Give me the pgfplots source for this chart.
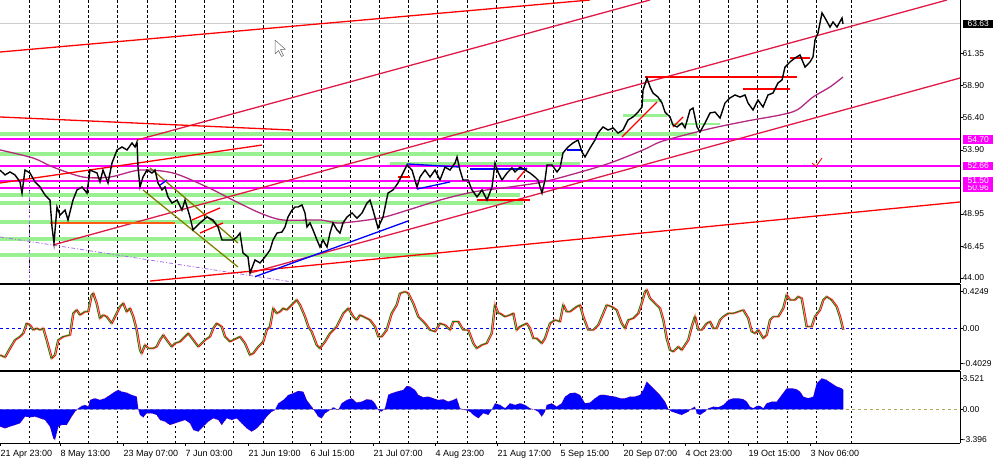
\documentclass[border=0pt]{standalone}
\usepackage{fontspec}
\setmainfont{Liberation Sans}
\usepackage{pgfplots}
\usepackage{pgfplotstable}
\pgfplotsset{compat=1.18}

\definecolor{mtred}{RGB}{255,0,0}
\definecolor{crim}{RGB}{225,25,70}
\definecolor{lgreen}{RGB}{152,240,144}
\definecolor{mag}{RGB}{255,0,255}
\definecolor{mapurple}{RGB}{180,40,130}
\definecolor{olivec}{RGB}{128,128,0}
\definecolor{orng}{RGB}{255,90,20}
\definecolor{lpurple}{RGB}{170,110,230}
\definecolor{halo}{RGB}{255,170,160}
\definecolor{oscgreen}{RGB}{0,128,0}
\definecolor{zeroolive}{RGB}{170,170,90}

\newcommand{\lab}{\fontsize{8.5}{9}\selectfont}

% price (close path), x in chart pixels
\pgfplotstableread{
x p
0 52.34
5 51.96
10 52.19
15 51.96
20 51.42
22 50.56
25 52.34
30 52.11
35 51.42
40 51.03
45 50.41
50 50.02
52 47.94
54 46.70
57 49.48
60 48.86
65 49.25
68 48.48
73 50.02
77 50.80
82 51.03
87 50.56
90 52.34
97 52.11
100 51.42
103 52.34
108 51.34
112 52.88
117 53.89
122 54.12
127 53.89
132 54.43
135 54.12
137 54.51
138 52.57
140 51.03
143 51.80
147 52.34
152 52.11
155 52.34
158 51.34
162 50.80
165 51.03
168 50.26
172 49.79
177 50.02
182 49.25
185 50.02
190 48.71
193 47.71
200 48.25
207 48.71
213 48.48
218 47.94
222 46.93
228 46.93
233 46.93
237 47.17
240 47.47
243 45.93
248 45.62
250 44.38
255 45.39
260 45.16
265 45.62
270 46.16
273 46.93
277 47.47
282 47.55
285 47.94
288 48.71
292 49.25
295 49.48
298 49.48
302 49.64
305 49.02
307 47.94
310 48.25
313 47.71
317 46.93
320 46.39
323 46.93
327 46.39
330 47.47
333 48.25
337 47.71
340 47.47
343 48.25
347 48.71
352 49.02
357 48.63
362 49.02
367 49.79
370 50.02
373 49.25
378 47.86
383 48.71
388 50.56
393 50.80
398 51.34
403 52.11
407 52.73
412 52.34
417 51.03
420 51.80
425 52.34
430 51.80
435 52.34
440 51.57
445 52.57
450 52.34
455 52.88
457 53.35
460 52.34
463 51.57
468 51.57
472 50.80
477 50.26
482 50.80
487 50.02
492 51.03
495 52.88
498 52.19
502 51.57
507 52.11
512 52.50
515 52.19
520 52.57
525 52.34
530 52.11
535 51.80
538 51.57
542 50.56
545 51.57
547 52.73
552 52.73
557 52.19
560 52.50
563 53.66
568 54.12
573 54.43
578 54.66
582 53.73
585 53.35
590 54.04
595 54.66
598 55.20
603 55.67
608 55.43
613 55.59
618 55.20
623 55.43
628 56.21
633 56.44
638 56.82
642 57.21
643 58.52
647 59.45
650 58.76
653 58.29
658 57.98
662 57.52
665 56.82
670 56.44
673 55.82
677 55.67
682 55.97
685 55.60
690 56.98
693 57.13
697 55.67
700 55.28
705 55.97
710 56.75
715 56.82
720 56.36
725 57.52
730 57.91
735 58.14
740 57.98
745 58.14
748 57.52
753 56.98
758 57.75
763 57.21
768 58.14
773 58.29
778 59.07
782 59.30
785 60.30
790 60.69
795 61.00
800 61.23
805 60.30
810 60.69
813 61.08
815 62.39
818 62.93
822 64.48
825 64.09
830 63.39
833 63.78
837 63.39
842 64.09
843 63.63
}\price

% oscillator
\pgfplotstableread{
x v
0 -0.305
5 -0.331
10 -0.228
15 -0.132
20 -0.094
23.3 -0.056
26.7 0.059
30 0.040
33.3 -0.017
36.7 0.002
40 -0.017
43.3 0.002
46.7 -0.132
51.7 -0.343
55 -0.305
58.3 -0.132
63.3 -0.094
70 -0.075
73.3 0.174
76.7 0.213
80 0.155
85 0.193
88.3 0.193
91.7 0.385
93.3 0.404
96.7 0.289
100 0.117
103.3 0.155
106.7 0.136
111.7 0.059
115 0.136
120 0.251
123.3 0.289
126.7 0.193
130 0.232
133.3 0.136
136.7 -0.017
140 -0.247
141.7 -0.285
145 -0.190
148.3 -0.228
153.3 -0.228
156.7 -0.209
160 -0.132
163.3 -0.075
166.7 -0.132
171.7 -0.209
175 -0.170
180 -0.151
185 -0.094
188.3 -0.056
193.3 -0.132
198.3 -0.209
201.7 -0.170
205 -0.132
210 -0.094
213.3 0.002
216.7 0.059
221.7 0.021
225 -0.094
230 -0.151
233.3 -0.132
236.7 -0.113
240 -0.094
245 -0.170
250 -0.305
253.3 -0.285
258.3 -0.209
263.3 -0.151
266.7 -0.017
270 0.021
273.3 0.232
276.7 0.174
280 0.193
283.3 0.232
286.7 0.213
291.7 0.270
296.7 0.328
300 0.270
305 0.136
308.3 0.021
311.7 -0.036
316.7 -0.190
320 -0.228
325 -0.151
330 -0.056
336.7 0.021
343.3 0.174
348.3 0.232
353.3 0.136
356.7 0.098
360 0.155
366.7 0.117
370 0.098
375 0.021
378.3 -0.094
381.7 -0.094
386.7 -0.017
391.7 0.174
396.7 0.270
400 0.404
405 0.423
408.3 0.404
413.3 0.289
418.3 0.136
421.7 0.098
425 0.059
430 -0.017
435 -0.036
440 0.059
445 0.040
450 -0.017
453.3 0.079
458.3 0.079
463.3 -0.017
468.3 -0.017
473.3 -0.170
476.7 -0.228
481.7 -0.190
486.7 -0.170
491.7 -0.056
495 0.270
498.3 0.174
500 0.174
505 0.136
510 0.155
513.3 0.174
516.7 -0.017
520 0.021
523.3 0.040
526.7 0.059
530 0.002
533.3 -0.113
536.7 -0.113
541.7 -0.170
545 -0.113
550 0.059
555 0.098
560 0.079
563.3 0.270
566.7 0.193
570 0.193
576.7 0.251
580 0.270
583.3 0.136
588.3 -0.017
593.3 -0.017
598.3 0.040
603.3 0.174
606.7 0.270
611.7 0.251
616.7 0.213
621.7 0.059
625 0.002
628.3 0.098
633.3 0.117
638.3 0.174
641.7 0.289
645 0.423
646.7 0.443
650 0.347
655 0.289
660 0.232
663.3 0.098
666.7 -0.113
670 -0.247
673.3 -0.266
678.3 -0.209
681.7 -0.247
685 -0.190
688.3 -0.132
691.7 0.021
695 0.136
698.3 -0.017
701.7 -0.017
706.7 0.059
710 0.079
713.3 0.002
716.7 0.002
720 0.098
723.3 0.136
728.3 0.174
733.3 0.174
738.3 0.193
743.3 0.213
748.3 0.117
751.7 -0.036
755 -0.056
758.3 -0.017
763.3 -0.113
766.7 -0.075
770 0.098
773.3 0.136
778.3 0.136
783.3 0.232
786.7 0.385
790 0.328
795 0.328
798.3 0.366
801.7 0.347
806.7 0.021
811.7 0.021
815 0.136
820 0.213
823.3 0.328
826.7 0.366
831.7 0.328
836.7 0.251
840 0.136
843.3 -0.017
}\osc

% histogram
\pgfplotstableread{
x h
0 -1.97
5 -2.16
10 -1.97
15 -1.78
20 -1.59
25 -0.83
30 -0.91
35 -0.83
40 -1.02
45 -1.21
50 -1.97
53.3 -3.30
55 -3.48
58.3 -1.97
61.7 -1.78
66.7 -1.78
71.7 -0.83
75 -0.27
78.3 0.11
81.7 0.38
85 0.49
88.3 0.30
90 1.06
95 1.25
100 1.06
105 1.25
110 1.63
115 2.01
118.3 2.20
121.7 2.01
126.7 1.89
131.7 1.63
136.7 1.44
138.3 0
140 -0.64
143.3 -0.91
146.7 -0.45
151.7 -0.45
156.7 -0.64
160 -1.21
165 -1.40
170 -1.78
175 -1.59
180 -1.40
185 -1.21
190 -1.59
193.3 -2.35
198.3 -2.54
203.3 -1.97
208.3 -1.40
213.3 -1.02
218.3 -1.21
221.7 -1.78
226.7 -1.02
231.7 -1.21
236.7 -1.02
241.7 -1.59
246.7 -2.16
251.7 -2.54
256.7 -2.16
261.7 -1.59
266.7 -0.83
271.7 -0.27
275 -0.08
278.3 0.68
283.3 1.06
288.3 1.63
293.3 1.82
298.3 2.08
303.3 2.01
306.7 1.06
311.7 0.30
315 -0.27
318.3 -0.83
321.7 -1.02
325 -0.45
330 -0.08
333.3 0.23
338.3 -0.08
341.7 0.68
346.7 1.06
351.7 1.25
356.7 0.76
361.7 0.87
366.7 1.14
371.7 1.06
375 0.68
378.3 -0.08
381.7 -0.27
385 0.11
388.3 1.63
391.7 1.82
396.7 2.01
403.3 2.20
406.7 2.65
410 2.58
415 2.20
418.3 1.63
423.3 1.36
428.3 1.44
433.3 1.25
438.3 1.06
443.3 1.14
448.3 0.87
453.3 1.06
456.7 1.25
460 0.11
465 -0.08
470 -0.27
473.3 -0.64
478.3 -1.02
483.3 -0.45
488.3 -0.64
491.7 -0.08
495 0.68
500 0.50
505 0.11
510 0.68
515 0.49
520 0.68
525 0.49
530 0.11
535 -0.08
538.3 -0.27
541.7 -0.83
545 -0.27
546.7 0.49
551.7 0.68
556.7 0.30
561.7 0.68
565 1.44
570 1.82
575 1.89
580 1.63
585 0.68
590 0.76
595 1.25
600 1.63
605 1.63
610 1.52
615 1.44
620 1.25
625 1.25
630 1.44
635 1.44
640 1.63
643.3 2.20
646.7 3.14
650 2.77
655 2.20
660 1.63
665 0.87
668.3 0
671.7 -0.27
676.7 -0.45
681.7 -0.64
685 -0.45
688.3 -0.27
691.7 0.11
695 0.30
696.7 -0.45
700 -0.64
705 -0.27
708.3 0.11
713.3 0.30
718.3 0.23
723.3 0.49
728.3 1.06
733.3 1.25
738.3 1.25
743.3 1.14
746.7 0.87
750 0.30
753.3 0.11
756.7 0.38
760 0.38
763.3 0.11
766.7 0.68
771.7 0.87
776.7 0.87
781.7 1.63
786.7 2.39
791.7 2.39
796.7 2.27
800 2.01
803.3 1.44
808.3 1.25
813.3 1.44
816.7 2.95
821.7 3.52
826.7 3.33
831.7 2.95
836.7 2.58
841.7 2.39
843.3 2.20
}\hist

\pgfplotsset{
  mt/.style={
    scale only axis, width=960pt,
    xmin=0, xmax=960,
    axis line style={black, line width=0.8pt},
    xtick={29,59,88,117,147,175,204,233,263,292,321,350,379,408,437,467,496,524,553,582,612,641,669,699,728,757,787,816,851},
    xticklabels={},
    xtick style={draw=none},
    xmajorgrids,
    major grid style={black, line width=0.6pt, dash pattern=on 2.5pt off 2.5pt},
    axis y line*=right,
    ytick pos=right, yticklabel pos=right,
    tick align=outside, major tick length=3pt,
    ytick style={black, line width=0.6pt},
    yticklabel style={font=\lab, anchor=west, xshift=-1.5pt, inner sep=1pt},
    clip mode=individual,
  },
  seg/.style={line width=1.3pt},
  band/.style={lgreen, line width=4pt},
}

\begin{document}
\begin{tikzpicture}
\path[use as bounding box] (0pt,0pt) rectangle (1000pt,463pt);

% ---- main price panel ----
\begin{axis}[mt, at={(0pt,180pt)}, anchor=south west, height=283pt,
  axis x line*=bottom,
  ymin=43.61, ymax=65.48,
  ytick={44,46.45,48.95,53.90,56.40,58.90,61.35},
  yticklabels={44.00,46.45,48.95,53.90,56.40,58.90,61.35}]
% support/resistance bands
\addplot[band] coordinates {(0,55.12) (697,55.12)};
\addplot[band] coordinates {(0,53.58) (563,53.58)};
\addplot[band] coordinates {(390,52.81) (580,52.81)};
\addplot[band] coordinates {(0,50.41) (520,50.41)};
\addplot[band] coordinates {(0,49.79) (523,49.79)};
\addplot[band] coordinates {(0,48.32) (345,48.32)};
\addplot[band] coordinates {(0,47.01) (350,47.01)};
\addplot[band] coordinates {(0,45.77) (437,45.77)};
\addplot[band, line width=3pt] coordinates {(623,56.59) (667,56.59)};
\addplot[band, line width=2pt] coordinates {(670,55.90) (720,55.90)};
\addplot[band, line width=3pt] coordinates {(643,57.75) (662,57.75)};
% bid line
\addplot[black!20, line width=1pt] coordinates {(0,63.63) (960,63.63)};
% horizontal levels
\addplot[mag, line width=2pt] coordinates {(0,54.70) (960,54.70)};
\addplot[mag, line width=2pt] coordinates {(0,52.66) (960,52.66)};
\addplot[mag, line width=2pt] coordinates {(0,51.50) (960,51.50)};
\addplot[mag, line width=2pt] coordinates {(0,50.96) (960,50.96)};
% dashed purple lines
\addplot[lpurple, line width=0.8pt, dash pattern=on 4pt off 2pt on 1pt off 2pt] coordinates {(0,47.17) (292,43.69)};
\addplot[lpurple, line width=0.8pt, dash pattern=on 3pt off 3pt] coordinates {(29,51.18) (29,43.61)};
% moving average
\addplot[mapurple, line width=1.3pt, smooth] coordinates {
 (0,53.89) (33,53.27) (53,52.57) (83,51.80) (110,51.80) (140,52.34) (173,52.11)
 (207,51.03) (233,50.02) (260,49.02) (283,48.48) (320,48.48) (340,48.25) (380,48.63)
 (408,49.25) (440,50.02) (473,50.64) (510,51.03) (543,51.42) (577,52.11) (610,52.88)
 (643,53.89) (660,54.51) (685,55.05) (713,55.59) (747,56.13) (780,56.59) (797,56.98)
 (813,57.98) (830,58.76) (843,59.53)};
% trend lines
\addplot[mtred, seg] coordinates {(0,61.46) (590,65.48)};
\addplot[crim, seg] coordinates {(137,54.66) (650,65.48)};
\addplot[crim, seg] coordinates {(53,46.55) (947,65.48)};
\addplot[crim, seg] coordinates {(250,44.38) (960,59.45)};
\addplot[mtred, seg] coordinates {(150,43.76) (960,49.87)};
\addplot[mtred, seg] coordinates {(0,56.44) (292,55.43)};
\addplot[mtred, seg] coordinates {(0,51.34) (262,54.27)};
\addplot[orng, seg] coordinates {(50,48.25) (175,48.25)};
% channels and small patterns
\addplot[olivec, seg] coordinates {(150,52.50) (238,46.70)};
\addplot[olivec, seg] coordinates {(143,50.80) (238,44.85)};
\addplot[mtred, seg] coordinates {(192,48.48) (220,49.41)};
\addplot[mtred, seg] coordinates {(200,47.47) (223,48.25)};
\addplot[mtred, seg] coordinates {(477,50.02) (530,50.02)};
\addplot[mtred, seg] coordinates {(398,51.80) (410,51.80)};
\addplot[mtred, seg] coordinates {(517,51.57) (527,52.50)};
\addplot[mtred, seg] coordinates {(622,54.89) (657,57.60)};
\addplot[mtred, seg] coordinates {(673,55.67) (683,56.44)};
\addplot[mtred, seg] coordinates {(645,59.53) (797,59.53)};
\addplot[mtred, seg] coordinates {(743,58.60) (790,58.60)};
\addplot[mtred, seg] coordinates {(790,61.00) (810,61.00)};
\addplot[mtred, line width=0.8pt] coordinates {(812,52.88) (816,52.62) (822,53.27)};
\addplot[blue, seg] coordinates {(255,44.10) (408,48.40)};
\addplot[blue, seg] coordinates {(407,52.81) (460,52.57)};
\addplot[blue, seg] coordinates {(417,50.87) (450,51.42)};
\addplot[blue, seg] coordinates {(470,52.42) (527,52.42)};
\addplot[blue, seg] coordinates {(160,51.18) (167,51.57)};
\addplot[blue, seg] coordinates {(567,53.89) (582,53.89)};
% price
\addplot[black, line width=1.4pt] table[x=x, y=p] {\price};
% right-hand price labels
\node[fill=black, text=white, font=\lab, anchor=west, minimum width=30pt, minimum height=8.5pt, inner sep=0pt, xshift=3pt] at (axis cs:960,63.63) {63.63};
\node[fill=mag, text=white, font=\lab, anchor=west, minimum width=30pt, minimum height=8.5pt, inner sep=0pt, xshift=3pt] at (axis cs:960,54.70) {54.70};
\node[fill=mag, text=white, font=\lab, anchor=west, minimum width=30pt, minimum height=8.5pt, inner sep=0pt, xshift=3pt] at (axis cs:960,52.66) {52.66};
\node[fill=mag, text=white, font=\lab, anchor=west, minimum width=30pt, minimum height=8.5pt, inner sep=0pt, xshift=3pt] at (axis cs:960,50.96) {50.96};
\node[fill=mag, text=white, font=\lab, anchor=west, minimum width=30pt, minimum height=8.5pt, inner sep=0pt, xshift=3pt] at (axis cs:960,51.50) {51.50};
\end{axis}

% ---- oscillator panel ----
\begin{axis}[mt, at={(0pt,93pt)}, anchor=south west, height=86pt,
  axis x line*=box,
  ymin=-0.477, ymax=0.511,
  ytick={-0.4029,0,0.4249},
  yticklabels={-0.4029,0.00,0.4249}]
\addplot[blue, line width=0.7pt, dash pattern=on 3pt off 3pt] coordinates {(0,0) (960,0)};
\addplot[halo, line width=2.4pt] table[x=x, y=v] {\osc};
\addplot[mtred, line width=0.7pt, xshift=0.8pt] table[x=x, y=v] {\osc};
\addplot[oscgreen, line width=0.7pt, xshift=-0.8pt] table[x=x, y=v] {\osc};
\end{axis}

% ---- histogram panel ----
\begin{axis}[mt, at={(0pt,20pt)}, anchor=south west, height=72pt,
  axis x line*=box, xtick pos=bottom,
  ymin=-3.83, ymax=4.35,
  ytick={-3.396,0,3.521},
  yticklabels={-3.396,0.00,3.521},
  extra x ticks={0,60,123,185,248,310,373,435,497,560,623,685,748,810},
  extra x tick labels={21 Apr 23:00,8 May 13:00,23 May 07:00,7 Jun 03:00,21 Jun 19:00,6 Jul 15:00,21 Jul 07:00,4 Aug 23:00,21 Aug 17:00,5 Sep 15:00,20 Sep 07:00,4 Oct 23:00,19 Oct 15:00,3 Nov 06:00},
  extra x tick style={grid=none, xtick style={draw=black, line width=0.6pt},
    xticklabel style={font=\fontsize{9}{10}\selectfont, anchor=north west, xshift=-0.5pt, yshift=-2.5pt, inner sep=1pt, text height=7pt, text depth=2pt}}]
\addplot[zeroolive, line width=0.7pt, dash pattern=on 3pt off 3pt] coordinates {(0,0) (960,0)};
\addplot[fill=blue, draw=none] table[x=x, y=h] {\hist} \closedcycle;
\addplot[mtred, line width=0.5pt, dotted] table[x=x, y=h] {\hist};
\end{axis}

% mouse cursor
\draw[black!60, fill=white, line width=0.5pt, line join=round]
  (275pt,423pt) -- ++(0pt,-14pt) -- ++(3.5pt,3.5pt) -- ++(3pt,-6pt) -- ++(2pt,1pt)
  -- ++(-3pt,6pt) -- ++(5pt,0pt) -- cycle;
\end{tikzpicture}
\end{document}
